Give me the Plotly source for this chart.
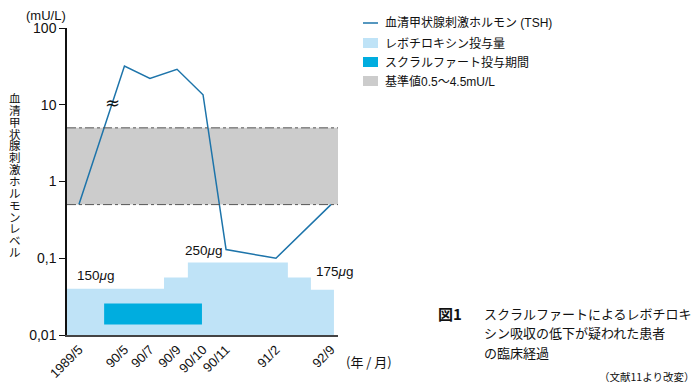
import plotly.graph_objects as go
import math

# ---------------- data ----------------
dates = ["1989/5", "90/5", "90/7", "90/9", "90/10", "90/11", "91/2", "92/9"]
date_pos = [0.44, 2.12, 3.06, 4.06, 5.02, 5.87, 7.71, 9.74]   # schematic time axis
tsh = [0.5, 32, 22, 29, 13.5, 0.13, 0.1, 0.5]                  # mU/L

dose_edges = [0, 3.58, 4.46, 8.15, 9.0, 9.85]                  # step boundaries
dose_level = [0.040, 0.056, 0.088, 0.056, 0.039]               # drawn height (log axis)
dose_labels = ["150<i>μ</i>g", "250<i>μ</i>g", "175<i>μ</i>g"]

sucralfate_x = [1.37, 4.98]
sucralfate_y = [0.0137, 0.0257]

ref_range = [0.5, 5.0]
axis_floor = 0.01

yticks = [0.01, 0.1, 1, 10, 100]
yticktext = ["0,01", "0,1", "1", "10", "100"]

ytitle = "血清甲状腺刺激ホルモンレベル"
legend_names = ["血清甲状腺刺激ホルモン (TSH)", "レボチロキシン投与量",
                "スクラルファート投与期間", "基準値0.5～4.5mU/L"]
caption = ["スクラルファートによるレボチロキ", "シン吸収の低下が疑われた患者", "の臨床経過"]

# ---------------- colours / fonts ----------------
C_LINE = "#1d74aa"
C_DOSE = "#bfe3f7"
C_SUC = "#00addf"
C_BAND = "#cccccc"
FONT = "Liberation Sans, Arial, Noto Sans CJK JP, sans-serif"
CJK = "Noto Sans CJK JP, sans-serif"

OFF = 8                      # page body margin offset
W, H = 699 - OFF, 385 - OFF
# plot area in screen pixels
SL, SR, ST, SB = 67, 338, 28, 335
L, R, T, B = SL - OFF, SR - OFF, ST - OFF, SB - OFF


def px(x):
    return (x - SL) / (SR - SL)


def py(y):
    return (SB - y) / (SB - ST)


fig = go.Figure()

# levothyroxine dose step area
xs, ys = [dose_edges[0]], [axis_floor]
for i, lvl in enumerate(dose_level):
    xs += [dose_edges[i], dose_edges[i + 1]]
    ys += [lvl, lvl]
xs += [dose_edges[-1]]
ys += [axis_floor]
fig.add_trace(go.Scatter(x=xs, y=ys, fill="toself", fillcolor=C_DOSE, mode="lines",
                         line=dict(width=0), name=legend_names[1], showlegend=False,
                         hoverinfo="skip"))

# sucralfate period
fig.add_trace(go.Scatter(
    x=[sucralfate_x[0], sucralfate_x[1], sucralfate_x[1], sucralfate_x[0], sucralfate_x[0]],
    y=[sucralfate_y[0], sucralfate_y[0], sucralfate_y[1], sucralfate_y[1], sucralfate_y[0]],
    fill="toself", fillcolor=C_SUC, mode="lines", line=dict(width=0),
    name=legend_names[2], showlegend=False, hoverinfo="skip"))

# TSH line
fig.add_trace(go.Scatter(x=date_pos, y=tsh, mode="lines", line=dict(color=C_LINE, width=1.5),
                         name=legend_names[0], showlegend=False))

shapes = []
# reference band
shapes.append(dict(type="rect", xref="x domain", yref="y", x0=0, x1=1,
                   y0=ref_range[0], y1=ref_range[1], fillcolor=C_BAND, line=dict(width=0),
                   layer="below"))
for v in ref_range:
    shapes.append(dict(type="line", xref="x domain", yref="y", x0=0, x1=1, y0=v, y1=v,
                       line=dict(color="#555555", width=1, dash="dashdot"), layer="above"))

# manual legend
leg_x0, leg_x1 = 363, 378
rows = [23, 43, 62, 81]
shapes.append(dict(type="line", xref="paper", yref="paper", x0=px(leg_x0), x1=px(leg_x1),
                   y0=py(rows[0]), y1=py(rows[0]), line=dict(color=C_LINE, width=1.5)))
for r, col in zip(rows[1:], [C_DOSE, C_SUC, C_BAND]):
    shapes.append(dict(type="rect", xref="paper", yref="paper", x0=px(leg_x0), x1=px(leg_x1),
                       y0=py(r - 5), y1=py(r + 5), fillcolor=col, line=dict(width=0)))

ann = []
for r, name in zip(rows, legend_names):
    ann.append(dict(text=name, xref="paper", yref="paper", x=px(383), y=py(r),
                    xanchor="left", yanchor="middle", showarrow=False,
                    font=dict(size=12, family=FONT, color="#111")))

# dose labels
for (xv, yv), t in zip([(75, 275), (183, 250), (314, 271)], dose_labels):
    ann.append(dict(text=t, xref="paper", yref="paper", x=px(xv), y=py(yv), xanchor="left",
                    yanchor="middle", showarrow=False, font=dict(size=13.5, family=FONT, color="#111")))

# break mark
ann.append(dict(text="≈", xref="paper", yref="paper", x=px(112), y=py(102), xanchor="center",
                yanchor="middle", showarrow=False, font=dict(size=18, family="DejaVu Sans", color="#111")))

# unit labels
ann.append(dict(text="(mU/L)", xref="paper", yref="paper", x=px(24), y=py(16), xanchor="left",
                yanchor="middle", showarrow=False, font=dict(size=13, family=FONT, color="#111")))
ann.append(dict(text="(年 / 月)", xref="paper", yref="paper", x=px(344), y=py(361), xanchor="left",
                yanchor="middle", showarrow=False, font=dict(size=13, family=CJK, color="#111")))

# vertical y title
for i, ch in enumerate(ytitle):
    ann.append(dict(text=ch, xref="paper", yref="paper", x=px(15), y=py(98 + i * 11.85),
                    xanchor="center", yanchor="middle", showarrow=False,
                    font=dict(size=11.5, family=CJK, color="#111")))

# caption
ann.append(dict(text="<b>図1</b>", xref="paper", yref="paper", x=px(436), y=py(313), xanchor="left",
                yanchor="middle", showarrow=False, font=dict(size=15, family=CJK, color="#111")))
for i, line in enumerate(caption):
    ann.append(dict(text=line, xref="paper", yref="paper", x=px(482), y=py(313 + i * 19.5),
                    xanchor="left", yanchor="middle", showarrow=False,
                    font=dict(size=13, family=CJK, color="#111")))
ann.append(dict(text="（文献11より改変）", xref="paper", yref="paper", x=px(696), y=py(376),
                xanchor="right", yanchor="middle", showarrow=False,
                font=dict(size=10.5, family=CJK, color="#111")))

fig.update_layout(
    width=W, height=H, margin=dict(l=L, r=W - R, t=T, b=H - B, pad=0), autosize=False,
    paper_bgcolor="white", plot_bgcolor="white", showlegend=False,
    shapes=shapes, annotations=ann,
    font=dict(family=FONT, color="#111"),
    xaxis=dict(range=[0, 10], tickvals=date_pos, ticktext=dates, tickangle=-45, automargin=False,
               showgrid=False, zeroline=False, showline=True, linecolor="#444", linewidth=2,
               ticks="", tickfont=dict(size=13, family=FONT, color="#111")),
    yaxis=dict(type="log", range=[math.log10(yticks[0]), math.log10(yticks[-1])], automargin=False,
               tickvals=yticks, ticktext=yticktext, showgrid=False, zeroline=False,
               showline=True, linecolor="#111", linewidth=1.5, ticks="outside", ticklen=6,
               tickcolor="#111", tickwidth=1.2, tickfont=dict(size=14, family=FONT, color="#111")),
)

fig.write_html("out.html")
